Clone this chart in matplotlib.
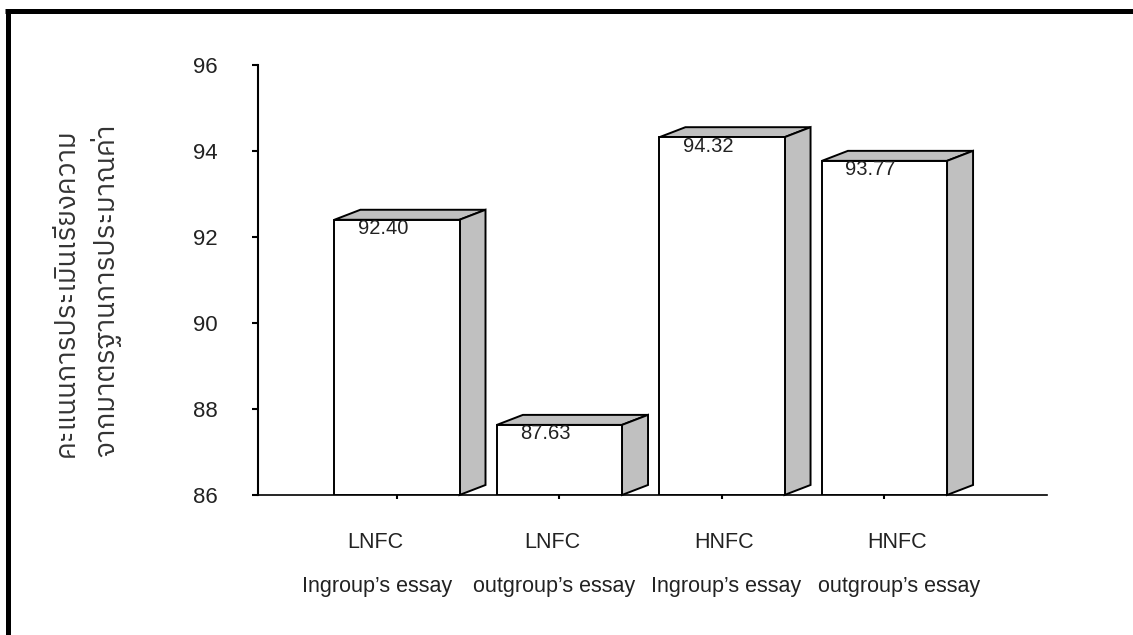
import matplotlib
matplotlib.use("Agg")
import matplotlib.pyplot as plt
from matplotlib import font_manager, ft2font
from matplotlib.patches import Polygon
from matplotlib.lines import Line2D

# data
groups = ["LNFC", "LNFC", "HNFC", "HNFC"]
essays = ["Ingroup\u2019s essay", "outgroup\u2019s essay", "Ingroup\u2019s essay", "outgroup\u2019s essay"]
scores = [92.40, 87.63, 94.32, 93.77]
yticks = [86, 88, 90, 92, 94, 96]
ylabel_lines = ["คะแนนการประเมินเรียงความ", "จากมาตรฐานการประมาณค่า"]


def find_thai_font():
    # pick any installed font that has Thai glyphs
    best = None
    for f in font_manager.fontManager.ttflist:
        try:
            cmap = ft2font.FT2Font(f.fname).get_charmap()
        except Exception:
            continue
        if 0x0E01 in cmap:
            if "Thai" in f.name and "Sans" in f.name:
                return f.name
            if best is None:
                best = f.name
    return best


thai_font = find_thai_font()
plt.rcParams['font.family'] = ['Liberation Sans', 'DejaVu Sans']

fig = plt.figure(figsize=(11.33, 6.35), dpi=100)
ax = fig.add_axes([0.2277, 0.2205, 0.6964, 0.6772])

width = 0.77
dx = 0.16      # depth to the right, in x units
dy = 0.2326    # depth upwards, in y units
base = 86
side_col = "#c0c0c0"
txt_col = "#222222"

x = list(range(len(scores)))
ax.bar(x, [s - base for s in scores], width=width, bottom=base,
       color="white", edgecolor="black", linewidth=1.4, zorder=3)

for xi, v in zip(x, scores):
    x0 = xi - width / 2
    x1 = xi + width / 2
    top = Polygon([(x0, v), (x0 + dx, v + dy), (x1 + dx, v + dy), (x1, v)],
                  closed=True, facecolor=side_col, edgecolor="black",
                  linewidth=1.4, zorder=2, clip_on=False)
    side = Polygon([(x1, base), (x1 + dx, base + dy), (x1 + dx, v + dy), (x1, v)],
                   closed=True, facecolor=side_col, edgecolor="black",
                   linewidth=1.4, zorder=2, clip_on=False)
    ax.add_patch(top)
    ax.add_patch(side)
    ax.annotate(f"{v:.2f}", (xi, v), xytext=(-14, -9), textcoords="offset pixels",
                ha="center", va="center", fontsize=14.5, color=txt_col, zorder=4)

ax.set_xlim(-0.855, 4.0)
ax.set_ylim(86, 96)
ax.set_yticks(yticks)
ax.set_yticklabels([str(t) for t in yticks], fontsize=16, color=txt_col)
ax.set_xticks(x)
ax.set_xticklabels([])

ax.tick_params(axis="y", direction="out", length=4, width=1.5, pad=25)
ax.tick_params(axis="x", direction="out", length=3, width=1.5)

for s in ["top", "right"]:
    ax.spines[s].set_visible(False)
ax.spines["left"].set_linewidth(1.5)
ax.spines["bottom"].set_linewidth(1.2)

# two-row category labels, nudged like the original
label_shift = [-22, -7, 2, 13]
trans = ax.get_xaxis_transform()
for xi, g, e, sh in zip(x, groups, essays, label_shift):
    ax.annotate(g, (xi, 0), xycoords=trans, xytext=(sh, -48), textcoords="offset pixels",
                ha="center", va="center", fontsize=15.5, color=txt_col)
    ax.annotate(e, (xi, 0), xycoords=trans, xytext=(sh + 2, -92), textcoords="offset pixels",
                ha="center", va="center", fontsize=15.5, color=txt_col)

yfam = [thai_font, 'DejaVu Sans'] if thai_font else ['DejaVu Sans']
fig.text(66 / 1133, 1 - 293 / 635, ylabel_lines[0], rotation=90, ha="center", va="center",
         fontsize=20, family=yfam, color="#333333")
fig.text(106 / 1133, 1 - 290 / 635, ylabel_lines[1], rotation=90, ha="center", va="center",
         fontsize=20, family=yfam, color="#333333")

# frame lines on the left and top edges
fig.add_artist(Line2D([7.5 / 1133, 7.5 / 1133], [0, 1 - 9 / 635], color="black",
                      linewidth=3.6, solid_capstyle="butt", transform=fig.transFigure))
fig.add_artist(Line2D([5 / 1133, 1], [1 - 11 / 635, 1 - 11 / 635], color="black",
                      linewidth=3.6, solid_capstyle="butt", transform=fig.transFigure))

fig.savefig("out.png", dpi=100, facecolor="white")
